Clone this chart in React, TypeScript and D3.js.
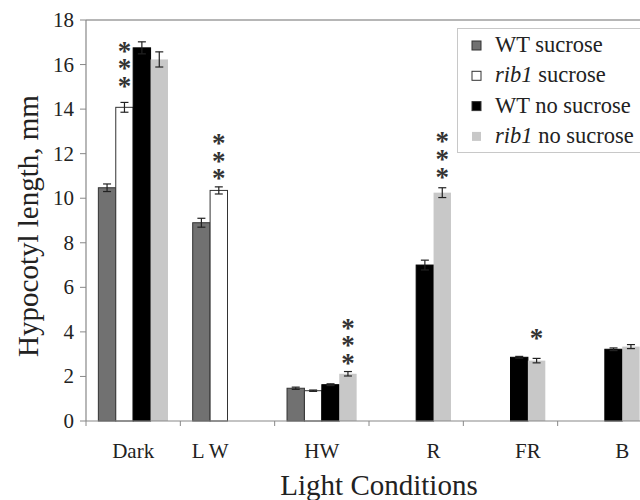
import { useEffect, useRef } from "react";
import * as d3 from "d3";

const categories = ["Dark", "L W", "HW", "R", "FR", "B"];
const seriesNames = ["WT sucrose", "rib1 sucrose", "WT no sucrose", "rib1 no sucrose"];

const wtSucrose = [10.47, 8.9, 1.47, null, null, null];
const rib1Sucrose = [14.08, 10.35, 1.36, null, null, null];
const wtNoSucrose = [16.75, null, 1.63, 7.0, 2.86, 3.22];
const rib1NoSucrose = [16.23, null, 2.12, 10.25, 2.71, 3.34];

const wtSucroseErr = [0.17, 0.2, 0.05, null, null, null];
const rib1SucroseErr = [0.22, 0.16, 0.03, null, null, null];
const wtNoSucroseErr = [0.27, null, 0.04, 0.22, 0.04, 0.06];
const rib1NoSucroseErr = [0.34, null, 0.1, 0.22, 0.1, 0.09];

// significance marks: category, series, number of stars, level of lowest star (mm)
const sigCategory = ["Dark", "L W", "HW", "R", "FR"];
const sigSeries = ["rib1 sucrose", "rib1 sucrose", "rib1 no sucrose", "rib1 no sucrose", "rib1 no sucrose"];
const sigCount = [3, 3, 3, 3, 1];
const sigLevel = [15.34, 11.19, 2.91, 11.27, 3.77];

const yTicks = [0, 2, 4, 6, 8, 10, 12, 14, 16, 18];

const fills = ["#717171", "#ffffff", "#000000", "#c8c8c8"];
const strokes = ["#333333", "#333333", "#000000", "none"];

const FONT = "'Liberation Serif', 'Times New Roman', serif";
const W = 640, H = 500;
const M = { top: 20, left: 86, bottom: 421, right: 652 };

export default function App() {
  const ref = useRef<SVGSVGElement>(null);

  useEffect(() => {
    if (!ref.current) return;
    const svg = d3.select(ref.current);
    svg.selectAll("*").remove();

    const values = [wtSucrose, rib1Sucrose, wtNoSucrose, rib1NoSucrose];
    const errs = [wtSucroseErr, rib1SucroseErr, wtNoSucroseErr, rib1NoSucroseErr];

    const x0 = d3.scaleBand().domain(categories).range([M.left, M.right]).padding(0);
    const x1 = d3.scaleBand().domain(seriesNames).range([0, x0.bandwidth()])
      .paddingInner(0).paddingOuter(0.71);
    const y = d3.scaleLinear().domain([0, 18]).range([M.bottom, M.top]);

    // Frame top line
    svg.append("line").attr("x1", M.left).attr("x2", W).attr("y1", M.top).attr("y2", M.top)
      .attr("stroke", "#6e6e6e").attr("stroke-width", 1.2);

    // Bars
    const bars = svg.append("g");
    categories.forEach((c, ci) => {
      seriesNames.forEach((s, si) => {
        const v = values[si][ci];
        if (v == null) return;
        bars.append("rect")
          .attr("x", (x0(c) ?? 0) + (x1(s) ?? 0))
          .attr("y", y(v))
          .attr("width", x1.bandwidth())
          .attr("height", y(0) - y(v))
          .attr("fill", fills[si])
          .attr("stroke", strokes[si])
          .attr("stroke-width", 1);
      });
    });

    // Error bars
    const eb = svg.append("g").attr("stroke", "#222").attr("stroke-width", 1.2);
    categories.forEach((c, ci) => {
      seriesNames.forEach((s, si) => {
        const v = values[si][ci];
        const e = errs[si][ci];
        if (v == null || e == null) return;
        const cx = (x0(c) ?? 0) + (x1(s) ?? 0) + x1.bandwidth() / 2;
        eb.append("line").attr("x1", cx).attr("x2", cx).attr("y1", y(v - e)).attr("y2", y(v + e));
        [v - e, v + e].forEach(t => {
          eb.append("line").attr("x1", cx - 4).attr("x2", cx + 4).attr("y1", y(t)).attr("y2", y(t));
        });
      });
    });

    // Asterisks: one vertical text per mark, glyphs kept upright
    const fs = 27;
    const step = 14.6;
    sigCategory.forEach((c, i) => {
      const cx = (x0(c) ?? 0) + (x1(sigSeries[i]) ?? 0) + x1.bandwidth() / 2;
      const n = sigCount[i];
      const topCy = y(sigLevel[i]) - (n - 1) * step;
      svg.append("text")
        .attr("x", cx).attr("y", topCy - step / 2 - 7)
        .attr("font-family", FONT).attr("font-size", fs).attr("font-weight", "bold")
        .attr("fill", "#333")
        .style("writing-mode", "vertical-rl")
        .style("text-orientation", "upright")
        .style("letter-spacing", `${step - fs}px`)
        .text("*".repeat(n));
    });

    // Y axis
    svg.append("line").attr("x1", M.left).attr("x2", M.left).attr("y1", M.top).attr("y2", M.bottom)
      .attr("stroke", "#888").attr("stroke-width", 1.2);
    const yg = svg.append("g");
    yTicks.forEach(t => {
      yg.append("line").attr("x1", M.left - 6).attr("x2", M.left).attr("y1", y(t)).attr("y2", y(t))
        .attr("stroke", "#888");
      yg.append("text").attr("x", 74).attr("y", y(t) + 7).attr("text-anchor", "end")
        .attr("font-family", FONT).attr("font-size", 21).attr("fill", "#222").text(t);
    });

    // X axis
    svg.append("line").attr("x1", M.left).attr("x2", W).attr("y1", M.bottom).attr("y2", M.bottom)
      .attr("stroke", "#888").attr("stroke-width", 1.2);
    categories.forEach((c, ci) => {
      const bx = x0(c) ?? 0;
      svg.append("line").attr("x1", bx).attr("x2", bx).attr("y1", M.bottom).attr("y2", M.bottom + 5)
        .attr("stroke", "#888");
      // label centred under the bars that are present
      const present = seriesNames.filter((_, si) => values[si][ci] != null);
      const xs = present.map(s => bx + (x1(s) ?? 0) + x1.bandwidth() / 2);
      const lx = ((d3.min(xs) ?? 0) + (d3.max(xs) ?? 0)) / 2;
      svg.append("text").attr("x", lx).attr("y", 458).attr("text-anchor", "middle")
        .attr("font-family", FONT).attr("font-size", 21).attr("fill", "#222").text(c);
    });

    // Axis titles
    svg.append("text").attr("x", 379).attr("y", 495).attr("text-anchor", "middle")
      .attr("font-family", FONT).attr("font-size", 29).attr("fill", "#222").text("Light Conditions");
    svg.append("text").attr("transform", "translate(38,226) rotate(-90)").attr("text-anchor", "middle")
      .attr("font-family", FONT).attr("font-size", 29).attr("fill", "#222").text("Hypocotyl length, mm");

    // Legend
    const lg = svg.append("g");
    lg.append("rect").attr("x", 457.5).attr("y", 28.5).attr("width", 190).attr("height", 124)
      .attr("fill", "#fff").attr("stroke", "#c8c8c8");
    seriesNames.forEach((s, i) => {
      const base = 52 + i * 30.3;
      lg.append("rect").attr("x", 472).attr("y", base - 11).attr("width", 9).attr("height", 9)
        .attr("fill", fills[i]).attr("stroke", strokes[i] === "none" ? "none" : "#333");
      const t = lg.append("text").attr("x", 495).attr("y", base)
        .attr("font-family", FONT).attr("font-size", 22.5).attr("fill", "#222");
      if (s.startsWith("rib1")) {
        t.append("tspan").attr("font-style", "italic").text("rib1");
        t.append("tspan").text(s.slice(4));
      } else {
        t.text(s);
      }
    });
  }, []);

  return (
    <svg ref={ref} width={W} height={H}
      style={{ position: "absolute", left: 0, top: 0, background: "#fff", display: "block" }} />
  );
}
